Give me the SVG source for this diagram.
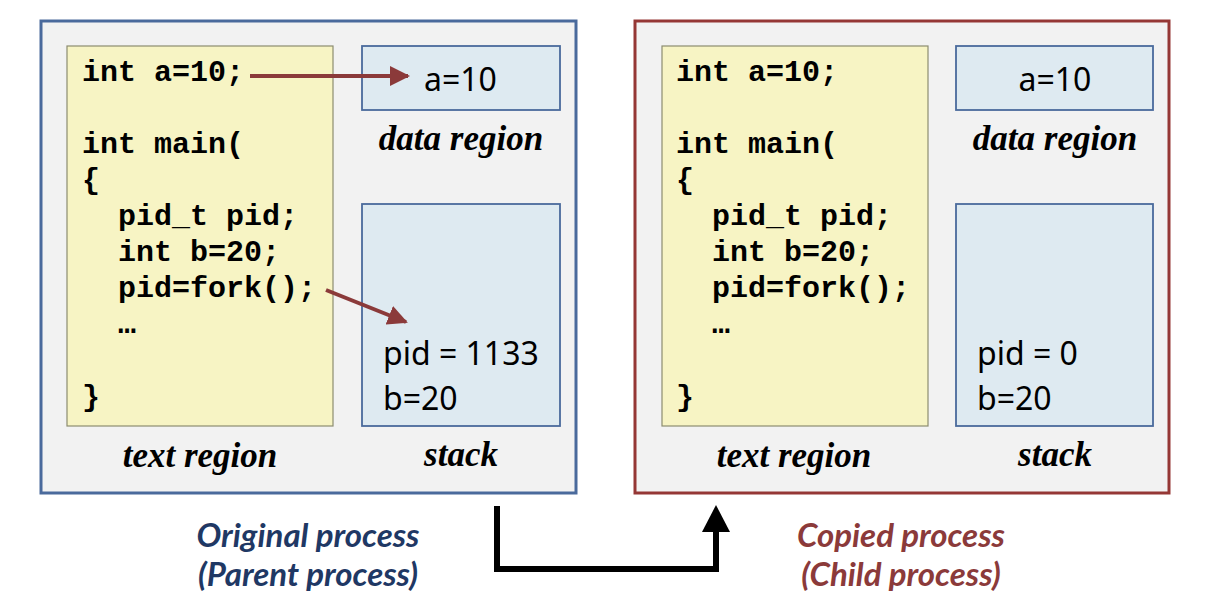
<svg xmlns="http://www.w3.org/2000/svg" width="1222" height="604" viewBox="0 0 1222 604">
<style>
.outer{fill:#f2f2f2;stroke-width:3}
.code-bg{fill:#f7f4c4;stroke:#8c8c70;stroke-width:1.2}
.mem{fill:#deeaf1;stroke:#4a6a9c;stroke-width:1.8}
.code{font-family:"Liberation Mono","Courier New",monospace;font-weight:bold;font-size:30px;fill:#000}
.val{font-family:"Noto Sans","Liberation Sans",sans-serif;font-size:32px;fill:#000}
.lbl{font-family:"Liberation Serif","Times New Roman",serif;font-weight:bold;font-style:italic;font-size:35px;fill:#000;text-anchor:middle}
.cap{font-family:Lato,"Liberation Sans",sans-serif;font-weight:bold;font-style:italic;font-size:33px;text-anchor:middle}
.red{stroke:#8b3a3a;stroke-width:4;fill:none}
</style>
<defs>
<marker id="ra" viewBox="0 0 10 10" refX="9" refY="5" markerWidth="5" markerHeight="5" markerUnits="strokeWidth" orient="auto">
<path d="M0,0 L10,5 L0,10 z" fill="#8b3a3a"/>
</marker>
</defs>

<g id="parent">
<rect class="outer" x="41" y="21" width="535" height="472" stroke="#4a6a9c"/>
<g id="parent-text">
<rect class="code-bg" x="67" y="46" width="266" height="380"/>
<text class="code" x="82" y="81">int a=10;</text>
<text class="code" x="82" y="153">int main(</text>
<text class="code" x="82" y="189">{</text>
<text class="code" x="118" y="225">pid_t pid;</text>
<text class="code" x="118" y="261">int b=20;</text>
<text class="code" x="118" y="297">pid=fork();</text>
<text class="code" x="118" y="333">…</text>
<text class="code" x="82" y="406">}</text>
<text class="lbl" x="200" y="467">text region</text>
</g>
<g id="parent-data">
<rect class="mem" x="362" y="46" width="198" height="64"/>
<text class="val" x="424" y="91">a=10</text>
<text class="lbl" x="461" y="150">data region</text>
</g>
<g id="parent-stack">
<rect class="mem" x="362" y="204" width="198" height="222"/>
<text class="val" x="383" y="365">pid = 1133</text>
<text class="val" x="383" y="410">b=20</text>
<text class="lbl" x="461" y="466">stack</text>
</g>
</g>

<g id="child">
<rect class="outer" x="635" y="21" width="534" height="472" stroke="#953735"/>
<g id="child-text">
<rect class="code-bg" x="662" y="46" width="266" height="380"/>
<text class="code" x="676" y="81">int a=10;</text>
<text class="code" x="676" y="153">int main(</text>
<text class="code" x="676" y="189">{</text>
<text class="code" x="712" y="225">pid_t pid;</text>
<text class="code" x="712" y="261">int b=20;</text>
<text class="code" x="712" y="297">pid=fork();</text>
<text class="code" x="712" y="333">…</text>
<text class="code" x="676" y="406">}</text>
<text class="lbl" x="794" y="467">text region</text>
</g>
<g id="child-data">
<rect class="mem" x="956" y="46" width="197" height="64"/>
<text class="val" x="1055" y="91" text-anchor="middle">a=10</text>
<text class="lbl" x="1055" y="150">data region</text>
</g>
<g id="child-stack">
<rect class="mem" x="956" y="204" width="197" height="222"/>
<text class="val" x="977" y="365">pid = 0</text>
<text class="val" x="977" y="410">b=20</text>
<text class="lbl" x="1055" y="466">stack</text>
</g>
</g>

<g id="captions">
<text class="cap" x="308" y="547" fill="#1f3864">Original process</text>
<text class="cap" x="308" y="586" fill="#1f3864">(Parent process)</text>
<text class="cap" x="901" y="547" fill="#8b3a3a">Copied process</text>
<text class="cap" x="901" y="586" fill="#8b3a3a">(Child process)</text>
</g>

<g id="connectors">
<path class="red" d="M250,76 L408,76" marker-end="url(#ra)"/>
<path class="red" d="M326,290 L406,322" marker-end="url(#ra)"/>
<path d="M497,506 L497,569 L716,569 L716,528" fill="none" stroke="#000" stroke-width="6"/>
<path d="M702,532 L716,505 L730,532 z" fill="#000"/>
</g>
</svg>
